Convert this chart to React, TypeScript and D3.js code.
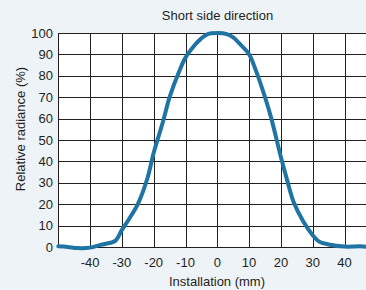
import React from "react";
import * as d3 from "d3";

// readings
const installation = [-50, -47, -44, -40, -37, -35, -32, -30, -28, -25, -22, -20, -17, -15, -12, -10, -7, -5, -3, 0, 3, 5, 7, 10, 12, 15, 17, 20, 22, 24, 27, 30, 32, 35, 40, 45, 48, 50];
const radiance = [0.3, 0, -0.5, -0.3, 0.9, 1.5, 3, 8, 12.5, 20, 32, 44, 59, 70, 82, 88.5, 94.5, 97.5, 99.5, 100, 99.5, 98, 95, 90, 83, 70, 60, 42, 31, 21, 12, 5.5, 2.5, 1.2, 0.2, 0.3, 0, 0];
const xTicks = [-40, -30, -20, -10, 0, 10, 20, 30, 40];
const yTicks = [0, 10, 20, 30, 40, 50, 60, 70, 80, 90, 100];

const W = 366;
const H = 290;
const font = "Liberation Sans, Arial, sans-serif";
const ink = "#231f20";

export default function App() {
  const x = d3.scaleLinear().domain([-50, 50]).range([58.3, 376.3]);
  const y = d3.scaleLinear().domain([0, 100]).range([247, 33]);

  const pts = installation.map((v, i) => [v, radiance[i]] as [number, number]);
  const line = d3
    .line<[number, number]>()
    .x(d => x(d[0]))
    .y(d => y(d[1]))
    .curve(d3.curveCatmullRom.alpha(0.5));

  const x0 = x(-50);
  const x1 = x(50);

  return (
    <svg
      width={W}
      height={H}
      style={{ position: "fixed", left: 0, top: 0, background: "#eef3f8" }}
    >
      <rect x={x0} y={y(100)} width={x1 - x0} height={y(0) - y(100)} fill="#fff" />
      {yTicks.map(t => (
        <line key={"h" + t} x1={x0} x2={x1} y1={Math.round(y(t)) + 0.5} y2={Math.round(y(t)) + 0.5} stroke={ink} strokeWidth={1} />
      ))}
      {[-50, ...xTicks].map(t => (
        <line key={"v" + t} x1={Math.round(x(t)) + 0.5} x2={Math.round(x(t)) + 0.5} y1={y(100)} y2={y(0)} stroke={ink} strokeWidth={1} />
      ))}
      <path d={line(pts) || ""} fill="none" stroke="#1f74a3" strokeWidth={4} strokeLinejoin="round" strokeLinecap="round" />
      {yTicks.map(t => (
        <text key={"yl" + t} x={53} y={y(t)} dy="0.36em" textAnchor="end" fontFamily={font} fontSize={13} fill={ink}>
          {t}
        </text>
      ))}
      {xTicks.map(t => (
        <text key={"xl" + t} x={x(t)} y={267} textAnchor="middle" fontFamily={font} fontSize={13} fill={ink}>
          {t}
        </text>
      ))}
      <text x={217.5} y={20} textAnchor="middle" fontFamily={font} fontSize={13} fill={ink}>
        Short side direction
      </text>
      <text x={217} y={286} textAnchor="middle" fontFamily={font} fontSize={13} fill={ink}>
        Installation (mm)
      </text>
      <text transform="translate(25,129) rotate(-90)" textAnchor="middle" fontFamily={font} fontSize={13} fill={ink}>
        Relative radiance (%)
      </text>
    </svg>
  );
}
